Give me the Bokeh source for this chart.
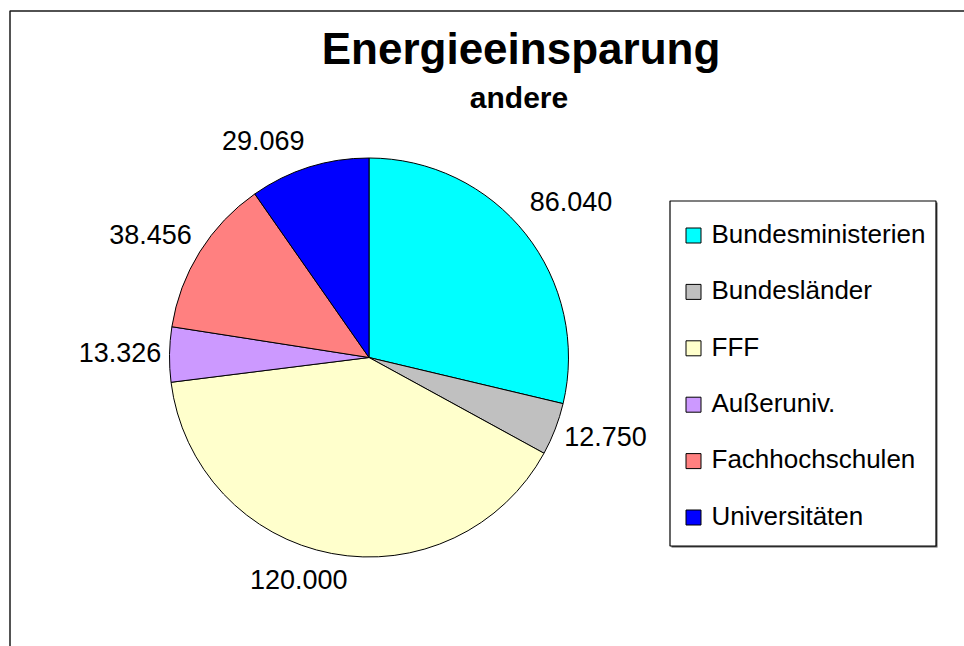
import numpy as np
from bokeh.plotting import figure
from bokeh.models import Range1d, ColumnDataSource
from bokeh.core.properties import value
from bokeh.embed import file_html
from bokeh.resources import INLINE

# ---- data ----
categories = ["Bundesministerien", "Bundesländer", "FFF", "Außeruniv.",
              "Fachhochschulen", "Universitäten"]
values = [86.040, 12.750, 120.000, 13.326, 38.456, 29.069]
value_labels = ["86.040", "12.750", "120.000", "13.326", "38.456", "29.069"]
colors = ["#00FFFF", "#C0C0C0", "#FFFFCC", "#CC99FF", "#FF8080", "#0000FF"]
title_text = "Energieeinsparung"
subtitle_text = "andere"

# ---- layout (screen px, y measured downward from top of page) ----
W, H = 964, 646
def sy(y):
    return H - y

# correction so that text lands on the intended alphabetic baseline
BASE_FIX = 0.42
def base(y_baseline, fs):
    return sy(y_baseline - BASE_FIX * fs)

FONT = value("Liberation Sans")
p = figure(width=W, height=H, x_range=Range1d(0, W), y_range=Range1d(0, H),
           output_backend="svg", toolbar_location=None, min_border=0,
           x_axis_type=None, y_axis_type=None, background_fill_color="white",
           border_fill_color="white")
p.outline_line_color = None

# chart frame (continues beyond the visible area)
p.quad(left=[9.5], right=[3000], top=[sy(10.5)], bottom=[-3000],
       fill_color=None, line_color="#1a1a1a", line_width=1.5)

# ---- pie ----
CX, CY, R = 368.5, sy(357), 199.5
vals = np.array(values, dtype=float)
T = vals.sum()
a1 = np.cumsum(vals) / T * 2 * np.pi
a0 = a1 - vals / T * 2 * np.pi
src = ColumnDataSource(dict(cat=categories, start=np.pi / 2 - a1, end=np.pi / 2 - a0,
                            color=colors))
p.wedge(x=CX, y=CY, radius=R, start_angle="start", end_angle="end",
        fill_color="color", line_color="black", line_width=1, source=src)

# data labels placed outside along each slice's mid-angle
LAB_FS = 27
lab_r = np.array([254, 250, 234, 249, 250, 240], dtype=float)
lab_shift = np.radians([1.0, -2.1, 6.7, -0.1, -2.9, -8.7])
mid = (a0 + a1) / 2 + lab_shift
lx = CX + lab_r * np.sin(mid)
lcy = 357 - lab_r * np.cos(mid)          # visual centre, screen y
p.text(x=lx, y=base(lcy + 0.358 * LAB_FS, LAB_FS), text=value_labels, text_font=FONT,
       text_font_size=f"{LAB_FS}px", text_align="center", text_baseline="alphabetic",
       text_color="black")

# ---- titles ----
p.text(x=[520.5], y=[base(66.5, 44)], text=[title_text], text_font=FONT,
       text_font_style="bold", text_font_size="44px", text_align="center",
       text_baseline="alphabetic", text_color="black")
p.text(x=[518.5], y=[base(110, 30)], text=[subtitle_text], text_font=FONT,
       text_font_style="bold", text_font_size="30px", text_align="center",
       text_baseline="alphabetic", text_color="black")

# ---- legend ----
LG_L, LG_R, LG_T, LG_B = 669.5, 935.5, 200.5, 545.5
p.quad(left=[LG_L + 1.5], right=[LG_R + 1.5], top=[sy(LG_T + 1.5)], bottom=[sy(LG_B + 1.5)],
       fill_color="#555555", line_color=None)
p.quad(left=[LG_L], right=[LG_R], top=[sy(LG_T)], bottom=[sy(LG_B)],
       fill_color="white", line_color="black", line_width=1.2)
n = len(categories)
row_c = 235 + np.arange(n) * 56.4
LG_FS = 26
p.rect(x=[693] * n, y=sy(row_c), width=15, height=15, fill_color=colors,
       line_color="black", line_width=1)
p.text(x=[711] * n, y=base(row_c + 0.358 * LG_FS, LG_FS), text=categories, text_font=FONT,
       text_font_size=f"{LG_FS}px", text_align="left", text_baseline="alphabetic",
       text_color="black")

with open("out.html", "w") as f:
    f.write(file_html(p, INLINE))
